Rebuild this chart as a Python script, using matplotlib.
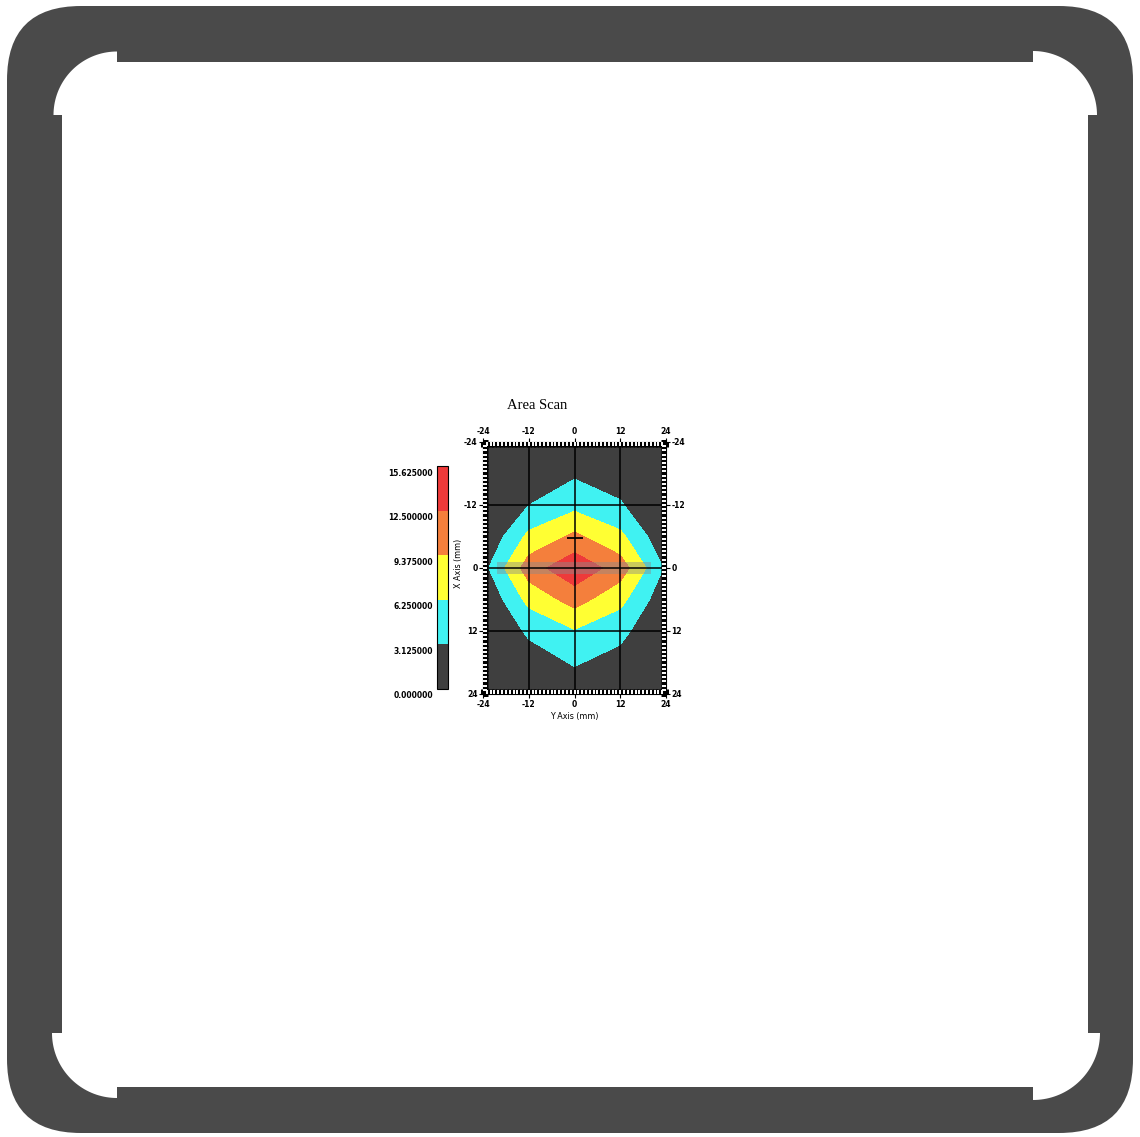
import matplotlib
matplotlib.use("Agg")
import matplotlib.pyplot as plt
from matplotlib.patches import FancyBboxPatch, Rectangle, Polygon
from matplotlib.ticker import MultipleLocator, FixedLocator, NullLocator
import matplotlib.transforms as mtransforms
import numpy as np

plt.rcParams["axes.unicode_minus"] = False

# ---------------- data ----------------
y_axis_mm = [-24, -12, 0, 12, 24]            # horizontal ("Y Axis (mm)")
x_axis_mm = [-24, -12, -6, 0, 6, 12, 24]     # vertical ("X Axis (mm)")
amp_row_m24 = [0.0, 0.0, 0.0, 0.0, 0.0]
amp_row_m12 = [0.0, 3.1, 5.3, 3.4, 0.0]
amp_row_m6 = [0.0, 7.0, 10.0, 7.0, 0.5]
amp_row_0 = [2.0, 11.0, 14.85, 11.0, 2.6]
amp_row_6 = [0.0, 7.2, 10.6, 7.2, 0.8]
amp_row_12 = [0.0, 3.6, 6.0, 4.0, 0.0]
amp_row_24 = [0.0, 0.0, 0.9, 0.0, 0.0]
levels = [0.0, 3.125, 6.25, 9.375, 12.5, 15.625]
level_colors = ["#3f3f3f", "#40f2f2", "#ffff33", "#f47f3c", "#ee3a3a"]
tick_values = [-24, -12, 0, 12, 24]
peak_marker = (0.0, -5.8)          # (Y, X) of the "+" marker
band_y = (-20.3, 20.0)             # translucent band extent along Y
band_x = (-1.1, 1.1)               # translucent band extent along X

title_text = "Area Scan"
xlabel_text = "Y Axis (mm)"
ylabel_text = "X Axis (mm)"

W, H = 1140, 1137
fig = plt.figure(figsize=(W / 100, H / 100), dpi=100)
fig.patch.set_facecolor("white")

# ---------------- frame ----------------
bg = fig.add_axes([0, 0, 1, 1], zorder=-1)
bg.set_xlim(0, W)
bg.set_ylim(H, 0)
bg.axis("off")
frame_col = "#4a4a4a"
bg.add_patch(FancyBboxPatch((7, 6), 1126, 1127,
                            boxstyle="round,pad=0,rounding_size=74",
                            facecolor=frame_col, edgecolor="none"))


def arc(cx, cy, r, t0, t1, n=40):
    t = np.radians(np.linspace(t0, t1, n))
    return list(zip(cx + r * np.cos(t), cy + r * np.sin(t)))


verts = [(117, 62), (1033, 62)]
verts += arc(1033, 115, 64, -90, 0)
verts += [(1088, 115), (1088, 1033)]
verts += arc(1033, 1033, 67, 0, 90)
verts += [(1033, 1087), (117, 1087)]
verts += arc(117, 1033, 65, 90, 180)
verts += [(62, 1033), (62, 115)]
verts += arc(117, 115, 63.5, 180, 270)
bg.add_patch(Polygon(verts, closed=True, facecolor="white", edgecolor="none"))

# ---------------- main axes ----------------
def fig_rect(x0, y0, x1, y1):
    return [x0 / W, 1 - y1 / H, (x1 - x0) / W, (y1 - y0) / H]

ax = fig.add_axes(fig_rect(483, 442, 666, 694))
Z = np.array([amp_row_m24, amp_row_m12, amp_row_m6, amp_row_0,
              amp_row_6, amp_row_12, amp_row_24])
cs = ax.contourf(y_axis_mm, x_axis_mm, Z, levels=levels, colors=level_colors)
ax.set_facecolor(level_colors[0])
ax.set_xlim(-24, 24)
ax.set_ylim(24, -24)

# translucent band and marker
ax.add_patch(Rectangle((band_y[0], band_x[0]), band_y[1] - band_y[0],
                       band_x[1] - band_x[0], facecolor="#8a8a8a",
                       alpha=0.45, edgecolor="none", zorder=2))
ax.plot([peak_marker[0]], [peak_marker[1]], marker="_", markersize=11,
        markeredgewidth=1.3, color="black", zorder=4)

ax.set_axisbelow(False)
ax.grid(True, which="major", color="black", linewidth=1.1)
ax.xaxis.set_major_locator(FixedLocator(tick_values))
ax.yaxis.set_major_locator(FixedLocator(tick_values))
ax.xaxis.set_minor_locator(MultipleLocator(1))
ax.yaxis.set_minor_locator(MultipleLocator(0.8))
ax.xaxis.remove_overlapping_locs = False
ax.yaxis.remove_overlapping_locs = False
ax.tick_params(which="major", direction="out", length=3, width=0.8,
               top=True, bottom=True, left=True, right=True,
               labeltop=True, labelbottom=True, labelleft=True, labelright=True,
               labelsize=5.5, pad=1)
ax.tick_params(which="minor", direction="in", length=3.8, width=3.6,
               color="black", top=True, bottom=True, left=True, right=True)
for lab in ax.get_xticklabels() + ax.get_yticklabels():
    lab.set_fontweight("bold")
for s in ax.spines.values():
    s.set_color("black")
    s.set_linewidth(0.8)

ax.set_xlabel(xlabel_text, fontsize=5.8)
ax.set_ylabel(ylabel_text, fontsize=5.8)
ax.xaxis.set_label_coords(0.5, -0.072)
ax.yaxis.set_label_coords(-0.112, 0.52)

# white squares in the ruler strip (not at the corners)
strip_x = np.arange(-23, 23.5, 1.0)
strip_y = np.arange(-23.2, 23.3, 0.8)
for loc in ["top", "bottom"]:
    sec = ax.secondary_xaxis(loc)
    sec.set_zorder(6)
    sec.xaxis.set_major_locator(NullLocator())
    sec.xaxis.set_minor_locator(FixedLocator(strip_x))
    sec.tick_params(which="minor", direction="in", length=2.6, width=1.4,
                    color="white")
    for s in sec.spines.values():
        s.set_visible(False)
for loc in ["left", "right"]:
    sec = ax.secondary_yaxis(loc)
    sec.set_zorder(6)
    sec.yaxis.set_major_locator(NullLocator())
    sec.yaxis.set_minor_locator(FixedLocator(strip_y))
    sec.tick_params(which="minor", direction="in", length=2.6, width=1.4,
                    color="white")
    for s in sec.spines.values():
        s.set_visible(False)

# ---------------- colorbar ----------------
cax = fig.add_axes(fig_rect(437, 466, 448, 689))
cbar = fig.colorbar(cs, cax=cax)
cbar.outline.set_edgecolor("black")
cbar.outline.set_linewidth(0.8)
cax.yaxis.set_ticks_position("left")
cax.set_yticks(levels)
cax.set_yticklabels(["%.6f" % v for v in levels])
cax.tick_params(length=0, labelsize=5.5, pad=3)
offset = mtransforms.ScaledTranslation(0, -6 / 100, fig.dpi_scale_trans)
for lab in cax.get_yticklabels():
    lab.set_transform(lab.get_transform() + offset)
    lab.set_fontweight("bold")

fig.text(537 / W, 1 - 406 / H, title_text, family="Liberation Serif",
         fontsize=10.5, ha="center", va="center")

fig.savefig("out.png", dpi=100)
